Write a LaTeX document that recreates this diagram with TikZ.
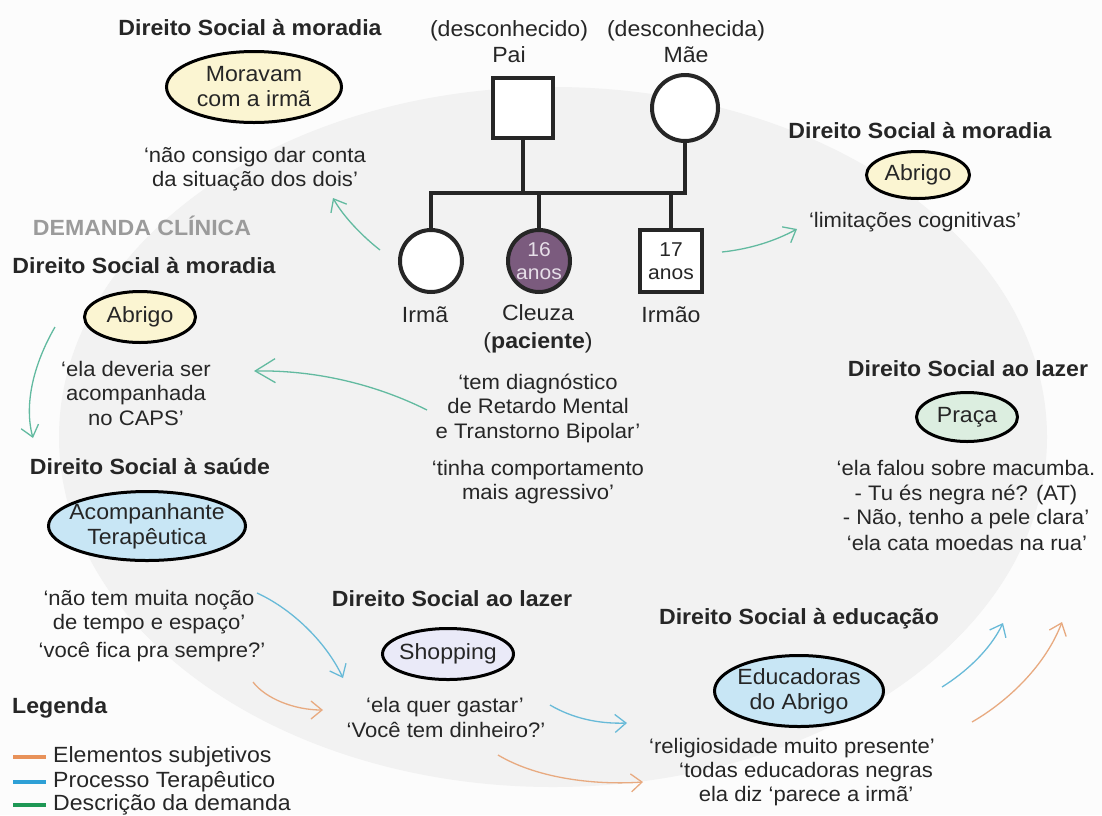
\documentclass[tikz,border=0pt]{standalone}
\usepackage{fontspec}
\setmainfont{Liberation Sans}[FakeStretch=1.05]
\usetikzlibrary{arrows.meta,shapes.geometric}
\definecolor{bgout}{RGB}{252,252,252}
\definecolor{bgin}{RGB}{242,242,242}
\definecolor{tc}{RGB}{38,38,38}
\definecolor{cream}{RGB}{251,245,210}
\definecolor{lblue}{RGB}{200,230,245}
\definecolor{lav}{RGB}{234,234,248}
\definecolor{lgreen}{RGB}{220,238,224}
\definecolor{purp}{RGB}{123,91,126}
\definecolor{ptext}{RGB}{230,222,232}
\definecolor{agreen}{RGB}{98,186,160}
\definecolor{ablue}{RGB}{104,186,216}
\definecolor{aorange}{RGB}{232,170,128}
\definecolor{lgorange}{RGB}{232,146,90}
\definecolor{lgblue}{RGB}{46,160,214}
\definecolor{lggreen}{RGB}{30,152,85}
\definecolor{dgray}{RGB}{155,155,155}
\begin{document}
\begin{tikzpicture}[x=1pt,y=-1pt,
  ttl/.style={font=\bfseries\fontsize{22}{24}\selectfont,text=tc,inner sep=0pt},
  qt/.style={font=\fontsize{21}{24.5}\selectfont,text=tc,align=center,inner sep=0pt},
  lab/.style={font=\fontsize{22}{26}\selectfont,text=tc,align=center,inner sep=0pt},
  bub/.style={ellipse,draw=black,line width=3pt,inner sep=0pt},
  btxt/.style={font=\fontsize{22}{25}\selectfont,text=tc,align=center,inner sep=0pt},
  genl/.style={draw=tc,line width=4pt},
  conn/.style={line width=1.3pt,-{Straight Barb[length=11pt,width=18pt]}},
  garr/.style={conn,draw=agreen},
  barr/.style={conn,draw=ablue},
  oarr/.style={conn,draw=aorange},
  lgline/.style={line width=4pt},
  lgtxt/.style={font=\fontsize{22}{24}\selectfont,text=tc,anchor=west,inner sep=0pt}
]
\useasboundingbox (0,0) rectangle (1102,815);
\fill[bgout] (0,0) rectangle (1102,815);
\fill[bgin] (553,437) ellipse [x radius=494pt, y radius=350pt];

% ---------- genogram ----------
\node[lab] (paitxt) at (509,42) {(desconhecido)\\Pai};
\node[lab] (maetxt) at (686,42) {(desconhecida)\\Mãe};
\node[genl,rectangle,fill=white,minimum size=60pt,inner sep=0pt] (pai) at (523,108) {};
\node[genl,circle,fill=white,minimum size=66pt,inner sep=0pt] (mae) at (685,108) {};
\node[genl,circle,fill=white,minimum size=62pt,inner sep=0pt] (irma) at (431,261) {};
\node[genl,circle,fill=purp,minimum size=62pt,inner sep=0pt] (cleuza) at (539,261) {};
\node[genl,rectangle,fill=white,minimum size=62pt,inner sep=0pt] (irmao) at (671,261) {};
\coordinate (bar) at (0,193);
\draw[genl,line join=miter] (irma.north) -- (irma.north |- bar) -- (mae.south |- bar) -- (mae.south);
\draw[genl] (pai.south) -- (pai.south |- bar);
\draw[genl] (cleuza.north) -- (cleuza.north |- bar);
\draw[genl] (irmao.north) -- (irmao.north |- bar);
\node[font=\fontsize{20}{23}\selectfont,text=ptext,align=center,inner sep=0pt] (cage) at (cleuza) {16\\anos};
\node[font=\fontsize{20}{23}\selectfont,text=tc,align=center,inner sep=0pt] (iage) at (irmao) {17\\anos};
\node[lab] (irmalab) at (425,315) {Irmã};
\node[lab,font=\fontsize{22}{28}\selectfont] (cleuzalab) at (538,329) {Cleuza\\(\textbf{paciente})};
\node[lab] (irmaolab) at (671,315) {Irmão};
\node[qt] (qdiag) at (538,408) {‘tem diagnóstico\\de Retardo Mental\\e Transtorno Bipolar’};
\node[qt] (qagr) at (538,482) {‘tinha comportamento\\mais agressivo’};

% ---------- top left ----------
\node[ttl] (t1) at (250,28) {Direito Social à moradia};
\node[bub,fill=cream,minimum width=175pt,minimum height=71pt] (e1) at (254,87) {};
\node[btxt] (e1t) at (e1) {Moravam\\com a irmã};
\node[qt] (q1) at (255,169) {‘não consigo dar conta\\da situação dos dois’};

\node[font=\bfseries\fontsize{22}{24}\selectfont,text=dgray,inner sep=0pt] (dem) at (142,226) {DEMANDA CLÍNICA};

% ---------- left ----------
\node[ttl] (t3) at (144,266) {Direito Social à moradia};
\node[bub,fill=cream,minimum width=111pt,minimum height=51pt] (e3) at (140,317) {};
\node[btxt] (e3t) at (e3) {Abrigo};
\node[qt] (q3) at (136,393) {‘ela deveria ser\\acompanhada\\no CAPS’};

\node[ttl] (t4) at (150,467) {Direito Social à saúde};
\node[bub,fill=lblue,minimum width=197pt,minimum height=69pt] (e4) at (147,526) {};
\node[btxt] (e4t) at (e4) {Acompanhante\\Terapêutica};
\node[qt] (q6) at (149,612) {‘não tem muita noção\\de tempo e espaço’};
\node[qt] (q7) at (152,652) {‘você fica pra sempre?’};

% ---------- right top ----------
\node[ttl] (t2) at (920,131) {Direito Social à moradia};
\node[bub,fill=cream,minimum width=103pt,minimum height=47pt] (e2) at (918,175) {};
\node[btxt] (e2t) at (e2) {Abrigo};
\node[qt] (q2) at (915,222) {‘limitações cognitivas’};

% ---------- right middle ----------
\node[ttl] (t5) at (968,369) {Direito Social ao lazer};
\node[bub,fill=lgreen,minimum width=101pt,minimum height=49pt] (e5) at (967,417) {};
\node[btxt] (e5t) at (e5) {Praça};
\node[qt] (q8) at (966,495) {‘ela falou sobre macumba.\\- Tu és negra né? (AT)\\- Não, tenho a pele clara’};
\node[qt] (q9) at (967,543) {‘ela cata moedas na rua’};

% ---------- bottom middle ----------
\node[ttl] (t6) at (452,599) {Direito Social ao lazer};
\node[bub,fill=lav,minimum width=131pt,minimum height=51pt] (e6) at (448,654) {};
\node[btxt] (e6t) at (e6) {Shopping};
\node[qt] (q10) at (445,707) {‘ela quer gastar’};
\node[qt] (q11) at (446,730) {‘Você tem dinheiro?’};

% ---------- bottom right ----------
\node[ttl] (t7) at (799,619) {Direito Social à educação};
\node[bub,fill=lblue,minimum width=169pt,minimum height=71pt] (e7) at (799,691) {};
\node[btxt] (e7t) at (e7) {Educadoras\\do Abrigo};
\node[qt] (q12) at (792,748) {‘religiosidade muito presente’};
\node[qt] (q13) at (806,784) {‘todas educadoras negras\\ela diz ‘parece a irmã’};

% ---------- arrows ----------
\coordinate (a1s) at (380,250); \coordinate (a1e) at (333,198);
\draw[garr] (a1s) .. controls (362,236) and (343,216) .. (a1e);
\coordinate (a2s) at (722,252); \coordinate (a2e) at (797,229);
\draw[garr] (a2s) .. controls (750,249) and (775,241) .. (a2e);
\coordinate (a3s) at (55,327); \coordinate (a3e) at (33,438);
\draw[garr] (a3s) .. controls (33,365) and (24,405) .. (a3e);
\coordinate (a4s) at (427,410); \coordinate (a4e) at (254,371);
\draw[garr,-{Straight Barb[length=20pt,width=24pt]}] (a4s) .. controls (375,384) and (315,370) .. (a4e);

\coordinate (b1s) at (257,593); \coordinate (b1e) at (343,678);
\draw[barr] (b1s) .. controls (290,608) and (325,640) .. (b1e);
\coordinate (b2s) at (550,705); \coordinate (b2e) at (627,723);
\draw[barr] (b2s) .. controls (572,718) and (598,724) .. (b2e);
\coordinate (b3s) at (942,687); \coordinate (b3e) at (1003,623);
\draw[barr] (b3s) .. controls (966,672) and (990,650) .. (b3e);

\coordinate (o1s) at (253,682); \coordinate (o1e) at (323,710);
\draw[oarr] (o1s) .. controls (266,699) and (295,710) .. (o1e);
\coordinate (o2s) at (498,755); \coordinate (o2e) at (643,782);
\draw[oarr] (o2s) .. controls (540,780) and (600,785) .. (o2e);
\coordinate (o3s) at (972,722); \coordinate (o3e) at (1062,622);
\draw[oarr] (o3s) .. controls (1010,700) and (1046,664) .. (o3e);

% ---------- legend ----------
\node[ttl,anchor=west] (leg) at (12,708) {Legenda};
\coordinate (l1a) at (13,757); \coordinate (l1b) at (46,757);
\draw[lgline,draw=lgorange] (l1a) -- (l1b);
\node[lgtxt] (l1t) at (53,757) {Elementos subjetivos};
\coordinate (l2a) at (13,782); \coordinate (l2b) at (46,782);
\draw[lgline,draw=lgblue] (l2a) -- (l2b);
\node[lgtxt] (l2t) at (53,782) {Processo Terapêutico};
\coordinate (l3a) at (13,805); \coordinate (l3b) at (46,805);
\draw[lgline,draw=lggreen] (l3a) -- (l3b);
\node[lgtxt] (l3t) at (53,805) {Descrição da demanda};
\end{tikzpicture}
\end{document}
